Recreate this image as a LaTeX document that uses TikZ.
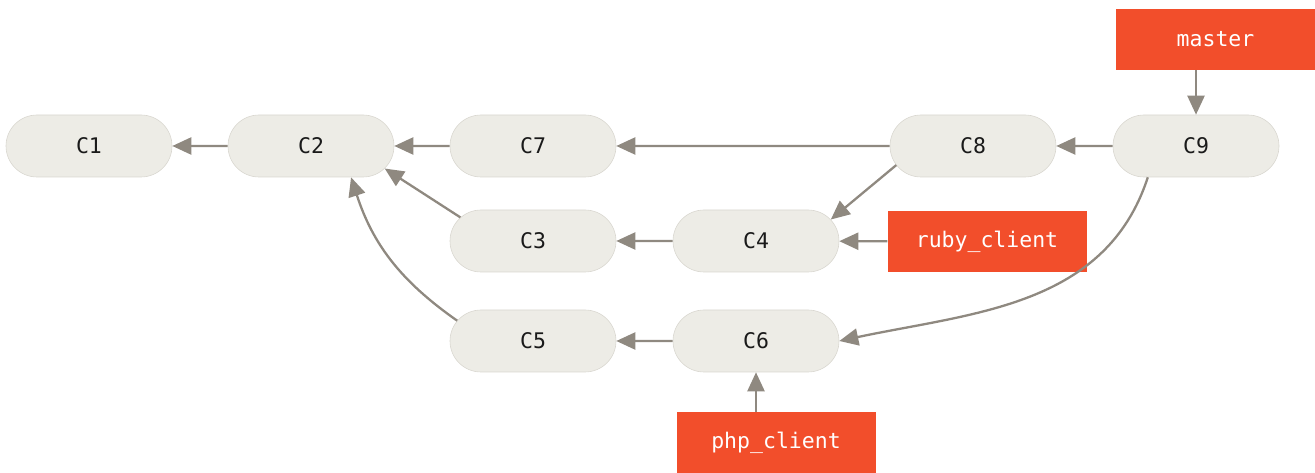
\documentclass[tikz,border=0pt]{standalone}
\usepackage{fontspec}
\setmonofont{DejaVu Sans Mono}
\usetikzlibrary{arrows.meta,shapes.misc}
\definecolor{ink}{HTML}{1A1A1A}
\definecolor{commitgrau}{HTML}{EDECE6}
\definecolor{rahmen}{HTML}{D9D7D0}
\definecolor{pfeilgrau}{HTML}{8F8980}
\definecolor{branchrot}{HTML}{F24E2B}
\newcommand{\code}{\fontsize{21.5}{26}\selectfont\ttfamily}
\tikzset{commit/.style={rounded rectangle,fill=commitgrau,draw=rahmen,line width=0.6pt,
    minimum width=166pt,minimum height=62pt,inner sep=0,text=ink,font=\code},
  branch/.style={rectangle,fill=branchrot,minimum width=199pt,minimum height=61pt,
    inner sep=0,text=white,font=\code},
  pfeil/.style={pfeilgrau,line width=2.3pt,-{Triangle[length=19pt,width=17pt]}}}

\begin{document}
\begin{tikzpicture}[x=1pt,y=1pt]
\useasboundingbox (0,0) rectangle (1315,473);
\node[commit] (c1) at (89,327) {C1};
\node[commit] (c2) at (311,327) {C2};
\node[commit] (c7) at (533,327) {C7};
\node[commit] (c8) at (973,327) {C8};
\node[commit] (c9) at (1196,327) {C9};
\node[commit] (c3) at (533,232) {C3};
\node[commit] (c4) at (756,232) {C4};
\node[commit] (c5) at (533,132) {C5};
\node[commit] (c6) at (756,132) {C6};
\node[branch] (master) at (1215.5,433.5) {master};
\node[branch] (ruby) at (987,231.5) {ruby\_client};
\node[branch] (php) at (776,30) {php\_client};
\draw[pfeil] (c2) -- (c1);
\draw[pfeil] (c7) -- (c2);
\draw[pfeil] (c8) -- (c7);
\draw[pfeil] (c9) -- (c8);
\draw[pfeil] (c4) -- (c3);
\draw[pfeil] (c6) -- (c5);
\draw[pfeil] (c3.162) -- (c2.-17);
\draw[pfeil] (c5.165) to[out=145,in=-72] (c2.-38);
\draw[pfeil] (c8.-166) -- (c4.16);
\draw[pfeil] (c9.-147) to[out=-108,in=12] (c6.east);
\draw[pfeil] (c9.north |- master.south) -- (c9.north);
\draw[pfeil] (ruby) -- (c4);
\draw[pfeil] (c6.south |- php.north) -- (c6.south);
\end{tikzpicture}
\end{document}
